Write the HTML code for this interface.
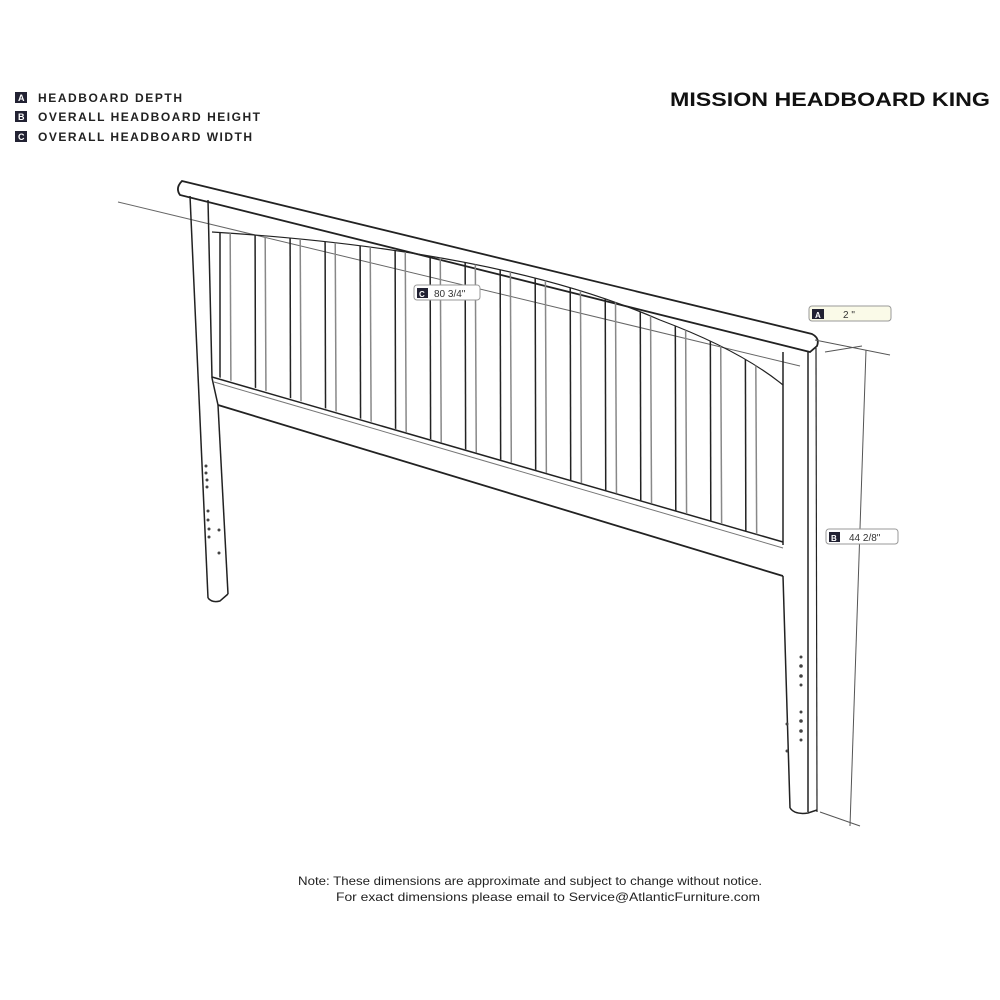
<!DOCTYPE html>
<html><head><style>
html,body{margin:0;padding:0;background:#fff;}
svg{display:block;}
text{font-family:"Liberation Sans",sans-serif;}
</style></head><body>
<svg width="1000" height="1000" viewBox="0 0 1000 1000" xmlns="http://www.w3.org/2000/svg">
<defs>
<clipPath id="slats"><path d="M212,232 Q500,250 660,320 Q740,350 783,385 L783,542 L218,377 Z"/></clipPath>
</defs>
<!-- legend -->
<g font-size="12" font-weight="bold" fill="#222">
<rect x="15" y="92" width="12" height="11" fill="#223"/><text x="18" y="101" fill="#fff" font-size="9">A</text>
<text x="38" y="102" textLength="144" lengthAdjust="spacing">HEADBOARD DEPTH</text>
<rect x="15" y="111" width="12" height="11" fill="#223"/><text x="18" y="120" fill="#fff" font-size="9">B</text>
<text x="38" y="121" textLength="222" lengthAdjust="spacing">OVERALL HEADBOARD HEIGHT</text>
<rect x="15" y="131" width="12" height="11" fill="#223"/><text x="18" y="140" fill="#fff" font-size="9">C</text>
<text x="38" y="141" textLength="214" lengthAdjust="spacing">OVERALL HEADBOARD WIDTH</text>
</g>
<text x="670" y="106" font-size="19" font-weight="bold" fill="#111" textLength="320" lengthAdjust="spacingAndGlyphs">MISSION HEADBOARD KING</text>

<g stroke="#222" fill="none" stroke-width="1.5">
<line x1="118" y1="202" x2="800" y2="366" stroke="#666" stroke-width="1"/>
<path d="M182,181 L812,334 Q820,338 817,346 L810,352 L180,195 Q175,188 182,181 Z" fill="#fff" stroke-width="1.8"/>
<line x1="190" y1="196" x2="208" y2="598"/>
<line x1="208" y1="200" x2="212" y2="378"/>
<line x1="218" y1="405" x2="228" y2="594"/>
<path d="M208,598 Q212,603 220,601 L228,594"/>
<line x1="783" y1="352" x2="783" y2="545"/>
<line x1="783" y1="576" x2="790" y2="808"/>
<line x1="808" y1="352" x2="808" y2="812"/>
<line x1="816" y1="348" x2="817" y2="812" stroke-width="1.2"/>
<path d="M790,808 Q795,815 808,813 L817,810"/>
<path d="M212,232 Q500,250 660,320 Q740,350 783,385" stroke-width="1.2"/>
<line x1="212" y1="377" x2="783" y2="542"/>
<line x1="214" y1="382" x2="783" y2="548" stroke="#777" stroke-width="1"/>
<line x1="218" y1="405" x2="783" y2="576" stroke-width="1.8"/>
<line x1="212" y1="378" x2="218" y2="405"/>
<g clip-path="url(#slats)">
<g stroke-width="1.5">
<line x1="220" y1="200" x2="220" y2="600"/><line x1="230" y1="200" x2="232" y2="600" stroke="#888"/>
<line x1="255" y1="200" x2="256" y2="600"/><line x1="265" y1="200" x2="267" y2="600" stroke="#888"/>
<line x1="290" y1="200" x2="291" y2="600"/><line x1="300" y1="200" x2="302" y2="600" stroke="#888"/>
<line x1="325" y1="200" x2="326" y2="600"/><line x1="335" y1="200" x2="337" y2="600" stroke="#888"/>
<line x1="360" y1="200" x2="361" y2="600"/><line x1="370" y1="200" x2="372" y2="600" stroke="#888"/>
<line x1="395" y1="200" x2="396" y2="600"/><line x1="405" y1="200" x2="407" y2="600" stroke="#888"/>
<line x1="430" y1="200" x2="431" y2="600"/><line x1="440" y1="200" x2="442" y2="600" stroke="#888"/>
<line x1="465" y1="200" x2="466" y2="600"/><line x1="475" y1="200" x2="477" y2="600" stroke="#888"/>
<line x1="500" y1="200" x2="501" y2="600"/><line x1="510" y1="200" x2="512" y2="600" stroke="#888"/>
<line x1="535" y1="200" x2="536" y2="600"/><line x1="545" y1="200" x2="547" y2="600" stroke="#888"/>
<line x1="570" y1="200" x2="571" y2="600"/><line x1="580" y1="200" x2="582" y2="600" stroke="#888"/>
<line x1="605" y1="200" x2="606" y2="600"/><line x1="615" y1="200" x2="617" y2="600" stroke="#888"/>
<line x1="640" y1="200" x2="641" y2="600"/><line x1="650" y1="200" x2="652" y2="600" stroke="#888"/>
<line x1="675" y1="200" x2="676" y2="600"/><line x1="685" y1="200" x2="687" y2="600" stroke="#888"/>
<line x1="710" y1="200" x2="711" y2="600"/><line x1="720" y1="200" x2="722" y2="600" stroke="#888"/>
<line x1="745" y1="200" x2="746" y2="600"/><line x1="755" y1="200" x2="757" y2="600" stroke="#888"/>
</g>
</g>
<line x1="815" y1="340" x2="890" y2="355" stroke="#555" stroke-width="1"/>
<line x1="825" y1="352" x2="862" y2="346" stroke="#555" stroke-width="1"/>
<line x1="866" y1="350" x2="850" y2="826" stroke="#555" stroke-width="1"/>
<line x1="820" y1="812" x2="860" y2="826" stroke="#555" stroke-width="1"/>
</g>
<g fill="#444">
<circle cx="206" cy="466" r="1.5"/><circle cx="206" cy="473" r="1.5"/><circle cx="207" cy="480" r="1.5"/><circle cx="207" cy="487" r="1.5"/>
<circle cx="208" cy="511" r="1.5"/><circle cx="208" cy="520" r="1.5"/><circle cx="209" cy="529" r="1.5"/><circle cx="209" cy="537" r="1.5"/>
<circle cx="219" cy="530" r="1.5"/><circle cx="219" cy="553" r="1.5"/>
<circle cx="801" cy="657" r="1.5"/><circle cx="801" cy="666" r="1.8"/><circle cx="801" cy="676" r="1.8"/><circle cx="801" cy="685" r="1.5"/>
<circle cx="801" cy="712" r="1.5"/><circle cx="801" cy="721" r="1.8"/><circle cx="801" cy="731" r="1.8"/><circle cx="801" cy="740" r="1.5"/>
<circle cx="787" cy="724" r="1.5"/><circle cx="787" cy="751" r="1.5"/>
</g>
<g font-size="10" fill="#333">
<rect x="414" y="285" width="66" height="15" rx="3" fill="#fff" stroke="#999"/>
<rect x="417" y="288" width="11" height="10" fill="#223"/><text x="419" y="297" fill="#fff" font-size="8" font-weight="bold">C</text>
<text x="434" y="297">80 3/4"</text>
<rect x="809" y="306" width="82" height="15" rx="3" fill="#fafae8" stroke="#999"/>
<rect x="812" y="309" width="12" height="10" fill="#223"/><text x="815" y="318" fill="#fff" font-size="8" font-weight="bold">A</text>
<text x="843" y="318">2 "</text>
<rect x="826" y="529" width="72" height="15" rx="3" fill="#fff" stroke="#999"/>
<rect x="829" y="532" width="11" height="10" fill="#223"/><text x="831" y="541" fill="#fff" font-size="8" font-weight="bold">B</text>
<text x="849" y="541">44 2/8"</text>
</g>
<g font-size="12" fill="#222">
<text x="298" y="885" textLength="464" lengthAdjust="spacingAndGlyphs">Note: These dimensions are approximate and subject to change without notice.</text>
<text x="336" y="901" textLength="424" lengthAdjust="spacingAndGlyphs">For exact dimensions please email to Service@AtlanticFurniture.com</text>
</g>
</svg>
</body></html>
